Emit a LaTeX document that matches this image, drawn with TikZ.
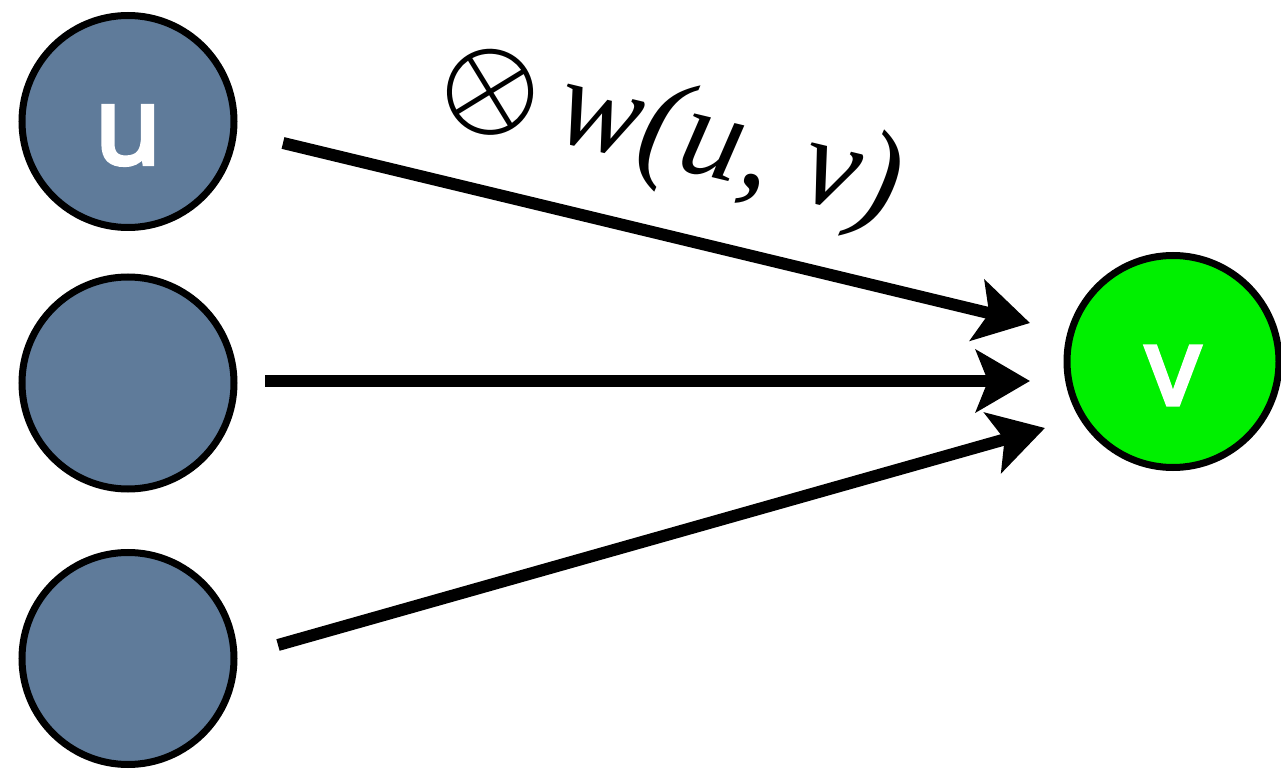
\documentclass[tikz,border=0pt]{standalone}
\usepackage{unicode-math}
\setmainfont{Liberation Serif}
\setmathfont{Latin Modern Math}
\newfontfamily\nodefont[FakeBold=4]{Open Sans}
\usetikzlibrary{arrows.meta}
\definecolor{slate}{HTML}{5F7B9A}
\definecolor{vgreen}{HTML}{00F000}
\tikzset{
  vert/.style={circle, draw=black, line width=3.5pt, minimum size=106pt, inner sep=0pt, fill=slate},
  vlabel/.style={text=white, font=\nodefont\fontsize{54}{54}\selectfont, yshift=-7pt},
  edge/.style={line width=6pt, -{Stealth[length=27pt, width=31pt, inset=6pt]}}
}
\begin{document}
\begin{tikzpicture}[x=0.5pt,y=-0.5pt]
\useasboundingbox (0,0) rectangle (1281,770);
\node[vert, label={[vlabel]center:u}] (u) at (128,121.5) {};
\node[vert] (m) at (128,383) {};
\node[vert] (b) at (128,658.5) {};
\node[vert, fill=vgreen, label={[vlabel]center:v}] (v) at (1173,361.5) {};
\coordinate (s1) at (283,143);
\coordinate (e1) at (1030,323);
\coordinate (s2) at (265,381);
\coordinate (e2) at (1030,381);
\coordinate (s3) at (278,645);
\coordinate (e3) at (1045,428);
\draw[edge] (s1) -- (e1);
\draw[edge] (s2) -- (e2);
\draw[edge] (s3) -- (e3);
\node[rotate=-13.5, font=\fontsize{63}{63}\selectfont\itshape] (lbl) at (671,137) {\(\otimes\)\,w(u, v)};
\end{tikzpicture}
\end{document}
